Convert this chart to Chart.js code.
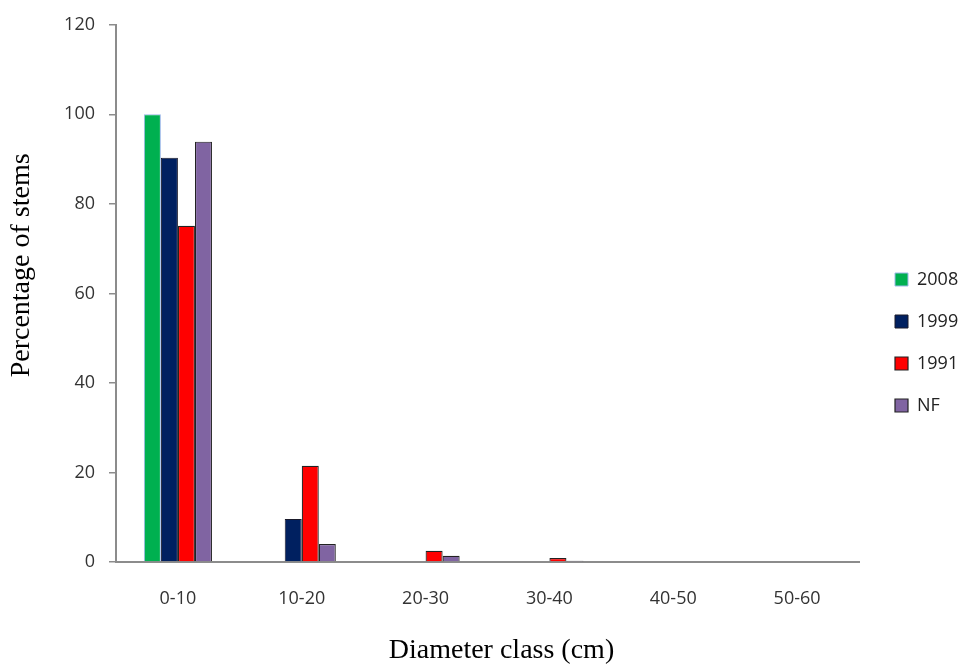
<!DOCTYPE html>
<html>
<head>
<meta charset="utf-8">
<script src="https://cdn.jsdelivr.net/npm/chart.js@4.4.0/dist/chart.umd.min.js"></script>
<style>
  body { margin: 0; background: #fff; }
  #wrap { width: 960px; height: 669px; }
</style>
</head>
<body>
<div id="wrap"><canvas id="myChart" width="960" height="669"></canvas></div>
<script>
// Diameter classes and percentage of stems per year
var classes = ['0-10', '10-20', '20-30', '30-40', '40-50', '50-60'];
var y2008 = [100, 0, 0, 0, 0, 0];
var y1999 = [90.3, 9.6, 0, 0, 0, 0];
var y1991 = [75.1, 21.5, 2.5, 0.9, 0, 0];
var yNF = [93.9, 4.0, 1.4, 0.3, 0, 0];
var yTicks = [0, 20, 40, 60, 80, 100, 120];

var tickFont = { family: 'Open Sans', size: 18 };
var titleFont = { family: 'Liberation Serif', size: 28 };

// legend sits further right than chart.js puts it by default
var legendSpot = {
  id: 'legendSpot',
  beforeLayout: function (chart) {
    var lg = chart.legend;
    if (lg && !lg._patched) {
      var fit = lg.fit;
      lg.fit = function () {
        fit.call(this);
        this.width = 101;
      };
      lg._patched = true;
    }
  },
  afterLayout: function (chart) {
    var lg = chart.legend;
    lg.left = 871;
    lg.top += 8;
    lg.bottom += 8;
  },
};

var ctx = document.getElementById('myChart').getContext('2d');

var myChart = new Chart(ctx, {
  type: 'bar',
  data: {
    labels: classes,
    datasets: [
      { label: '2008', data: y2008, backgroundColor: '#00b050', borderColor: '#9cb8e8', borderWidth: 1 },
      { label: '1999', data: y1999, backgroundColor: '#002060', borderColor: '#1a1a2a', borderWidth: 1 },
      { label: '1991', data: y1991, backgroundColor: '#ff0000', borderColor: '#222222', borderWidth: 1.2 },
      { label: 'NF', data: yNF, backgroundColor: '#8064a2', borderColor: '#222222', borderWidth: 1.2 },
    ],
  },
  plugins: [legendSpot],
  options: {
    responsive: false,
    animation: false,
    categoryPercentage: 0.55,
    barPercentage: 1.0,
    layout: { padding: 0 },
    plugins: {
      tooltip: { enabled: false },
      legend: {
        position: 'right',
        align: 'center',
        labels: {
          color: '#222',
          font: tickFont,
          boxWidth: 13,
          boxHeight: 13,
          padding: 24,
        },
      },
    },
    scales: {
      x: {
        afterFit: function (s) { s.height = 107; },
        grid: { display: false, drawTicks: false },
        border: { color: '#8c8c8c', width: 2 },
        ticks: { color: '#333', font: tickFont, padding: 26 },
        title: { display: true, text: '    Diameter class (cm)', color: '#000', font: titleFont, padding: { top: 0, bottom: 2 } },
      },
      y: {
        min: 0,
        max: 120,
        afterFit: function (s) { s.width = 116; },
        afterBuildTicks: function (axis) {
          axis.ticks = yTicks.map(function (v) { return { value: v }; });
        },
        grid: { drawOnChartArea: false, drawTicks: true, tickLength: 7, color: '#8c8c8c', lineWidth: 1.5 },
        border: { color: '#8c8c8c', width: 2 },
        ticks: { color: '#333', font: tickFont, padding: 14 },
        title: { display: true, text: '        Percentage of stems', color: '#000', font: titleFont, padding: { top: 5, bottom: 0 } },
      },
    },
  },
});
</script>
</body>
</html>
